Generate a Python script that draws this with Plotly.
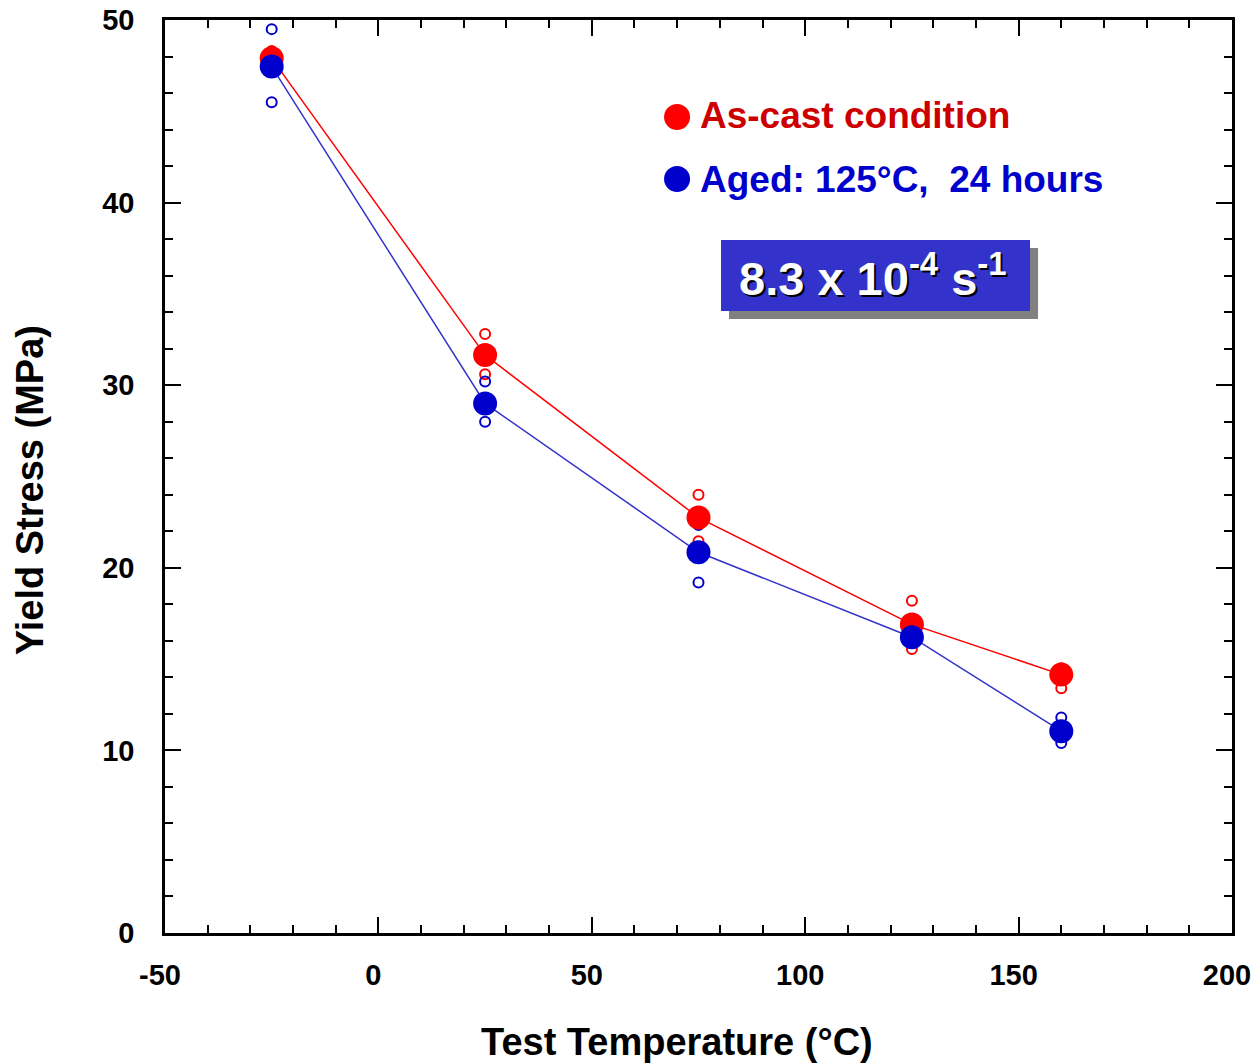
import plotly.graph_objects as go

temps = [-25, 25, 75, 125, 160]
red_mean = [47.9, 31.65, 22.75, 16.9, 14.15]
blue_mean = [47.45, 29.0, 20.85, 16.2, 11.05]

ind_temps = [-25, -25, 25, 25, 75, 75, 125, 125, 160, 160]
red_ind = [48.3, 47.6, 32.8, 30.6, 24.0, 21.45, 18.2, 15.55, 14.5, 13.4]
blue_ind = [49.5, 45.5, 30.2, 28.0, 22.35, 19.2, 16.6, 15.9, 11.8, 10.4]

x_ticks = [-50, 0, 50, 100, 150, 200]
x_ticklabels = ["-50", "0", "50", "100", "150", "200"]
y_ticks = [0, 10, 20, 30, 40, 50]

FONT = "Liberation Sans, Arial, sans-serif"
RED = "#ff0000"
BLUE = "#0000cc"

fig = go.Figure()
fig.add_trace(go.Scatter(x=temps, y=red_mean, mode="lines", line=dict(color=RED, width=1.5), showlegend=False))
fig.add_trace(go.Scatter(x=temps, y=blue_mean, mode="lines", line=dict(color="#3333cc", width=1.5), showlegend=False))
fig.add_trace(go.Scatter(x=ind_temps, y=red_ind, mode="markers",
                         marker=dict(symbol="circle-open", size=10, color=RED, line=dict(width=2)), showlegend=False))
fig.add_trace(go.Scatter(x=ind_temps, y=blue_ind, mode="markers",
                         marker=dict(symbol="circle-open", size=10, color=BLUE, line=dict(width=2)), showlegend=False))
fig.add_trace(go.Scatter(x=temps, y=red_mean, mode="markers",
                         marker=dict(size=24, color=RED, line=dict(width=0)), showlegend=False))
fig.add_trace(go.Scatter(x=temps, y=blue_mean, mode="markers",
                         marker=dict(size=24, color=BLUE, line=dict(width=0)), showlegend=False))

axis_common = dict(
    showgrid=False, zeroline=False, showline=True, linecolor="black", linewidth=2.5,
    mirror="allticks", ticks="inside", ticklen=16, tickwidth=2, tickcolor="black",
    tickfont=dict(family=FONT, size=29, color="black", weight="bold"),
    automargin=False, ticklabeloverflow="allow",
)
fig.update_xaxes(range=[-50, 200], tickvals=x_ticks, ticktext=x_ticklabels, ticklabelstandoff=14,
                 ticklabelshift=-5,
                 minor=dict(dtick=10, ticks="inside", ticklen=8, tickwidth=2, tickcolor="black"),
                 **axis_common)
fig.update_yaxes(range=[0, 50], tickvals=y_ticks, ticklabelstandoff=22,
                 minor=dict(dtick=2, ticks="inside", ticklen=8, tickwidth=2, tickcolor="black"),
                 **axis_common)

shapes = [
    dict(type="rect", xref="paper", yref="paper", x0=0.5286, x1=0.8182, y0=0.6725, y1=0.7503,
         fillcolor="#808080", line=dict(width=0), layer="above"),
    dict(type="rect", xref="paper", yref="paper", x0=0.5211, x1=0.8107, y0=0.6813, y1=0.7590,
         fillcolor="#3333cc", line=dict(width=0), layer="above"),
    dict(type="circle", xref="paper", yref="paper", xsizemode="pixel", ysizemode="pixel",
         xanchor=0.4799, yanchor=0.8937, x0=-13, x1=13, y0=-13, y1=13,
         fillcolor=RED, line=dict(width=0)),
    dict(type="circle", xref="paper", yref="paper", xsizemode="pixel", ysizemode="pixel",
         xanchor=0.4799, yanchor=0.8258, x0=-13, x1=13, y0=-13, y1=13,
         fillcolor=BLUE, line=dict(width=0)),
]

annotations = [
    dict(text="As-cast condition", xref="paper", yref="paper", x=0.4995, y=0.8959,
         xanchor="left", yanchor="middle", showarrow=False,
         font=dict(family=FONT, size=37, color="#cc0000", weight="bold")),
    dict(text="Aged: 125°C,  24 hours", xref="paper", yref="paper", x=0.4995, y=0.8258,
         xanchor="left", yanchor="middle", showarrow=False,
         font=dict(family=FONT, size=37, color=BLUE, weight="bold")),
    dict(text="8.3 x 10<sup>-4</sup> s<sup>-1</sup>", xref="paper", yref="paper", x=0.6636, y=0.7207,
         xanchor="center", yanchor="middle", showarrow=False,
         font=dict(family=FONT, size=47, color="white", weight="bold", shadow="2px 2px 0px black")),
    dict(text="Test Temperature (°C)", xref="paper", yref="paper", x=0.48, y=-0.1195,
         xanchor="center", yanchor="middle", showarrow=False,
         font=dict(family=FONT, size=38, color="black", weight="bold")),
    dict(text="Yield Stress (MPa)", xref="paper", yref="paper", x=-0.1265, y=0.485,
         xanchor="center", yanchor="middle", showarrow=False, textangle=-90,
         font=dict(family=FONT, size=38, color="black", weight="bold")),
]

fig.update_layout(
    width=1256, height=1063,
    margin=dict(l=165, r=24, t=20, b=130),
    plot_bgcolor="white", paper_bgcolor="white",
    shapes=shapes, annotations=annotations,
    showlegend=False,
)

fig.write_html("out.html", config={"displayModeBar": False},
               post_script="document.body.style.margin='0';document.body.style.overflow='hidden';")
